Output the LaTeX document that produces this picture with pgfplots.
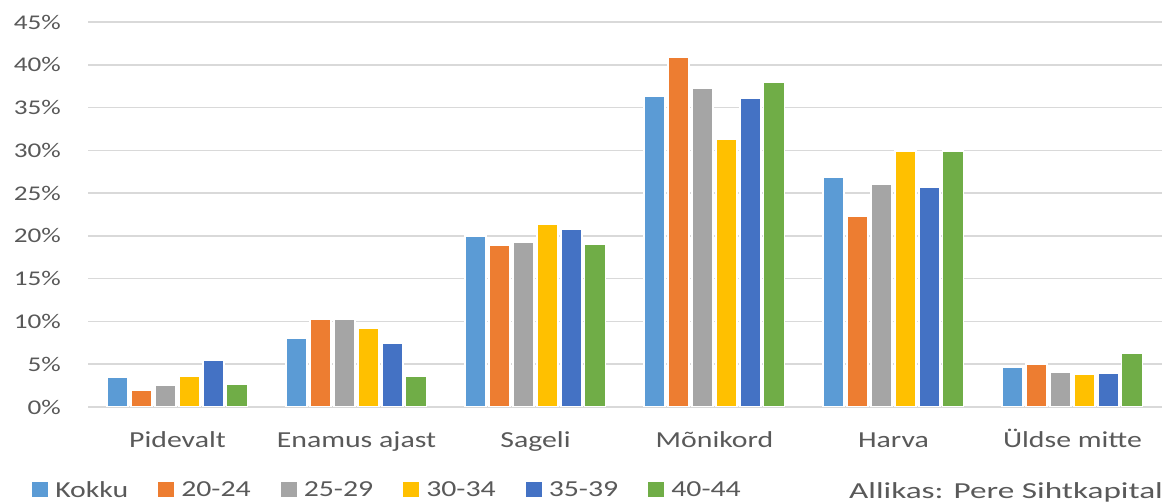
\documentclass[border=0pt]{standalone}
\usepackage{pgfplots}
\pgfplotsset{compat=1.18}
\usepackage{fontspec}
\setmainfont{Carlito}[FakeStretch=1.3]
\newfontfamily\widefont{Carlito}[FakeStretch=1.45]

\definecolor{cKokku}{HTML}{5B9BD5}
\definecolor{cA}{HTML}{ED7D31}
\definecolor{cB}{HTML}{A5A5A5}
\definecolor{cC}{HTML}{FFC000}
\definecolor{cD}{HTML}{4472C4}
\definecolor{cE}{HTML}{70AD47}
\definecolor{txt}{HTML}{595959}
\definecolor{gridc}{HTML}{D9D9D9}

\begin{document}
\begin{tikzpicture}[x=1bp,y=1bp]
\useasboundingbox (0,0) rectangle (1169,503);
\begin{axis}[
  at={(88bp,96bp)}, anchor=south west,
  scale only axis, width=1074bp, height=385bp,
  xmin=-0.5, xmax=5.5, ymin=0, ymax=45,
  ybar=2.9bp, bar width=21bp,
  every axis plot post/.append style={
    legend image code/.code={\fill[##1,draw=none] (0bp,-6.5bp) rectangle (16bp,8bp);}},
  xtick={0,1,2,3,4,5},
  xticklabels={Pidevalt, Enamus ajast, Sageli, Mõnikord, Harva, Üldse mitte},
  ytick={0,5,...,45},
  yticklabel={\pgfmathprintnumber{\tick}\%},
  /pgf/number format/assume math mode=true,
  ymajorgrids, grid style={draw=gridc, line width=1.6bp},
  major tick length=0pt,
  axis line style={draw=none},
  yticklabel style={font=\fontsize{21}{21}\selectfont, text=txt, anchor=east, inner sep=0pt, xshift=-27bp},
  xticklabel style={font=\fontsize{23}{23}\selectfont, text=txt, anchor=base, inner sep=0pt, yshift=-41bp},
  legend columns=6,
  legend style={at={(axis description cs:-0.0521,-0.2390)}, anchor=south west,
    draw=none, fill=none, inner sep=0pt, font=\fontsize{23}{23}\selectfont, text=txt,
    nodes={inner sep=0pt},
    /tikz/every odd column/.append style={column sep=7bp},
    /tikz/every even column/.append style={column sep=30bp}},
]
\addplot[fill=cKokku, draw=white, line width=1.5bp] coordinates {(0,3.5) (1,8.0) (2,20.0) (3,36.3) (4,26.9) (5,4.6)};
\addplot[fill=cA, draw=white, line width=1.5bp] coordinates {(0,2.0) (1,10.3) (2,18.9) (3,40.9) (4,22.3) (5,5.0)};
\addplot[fill=cB, draw=white, line width=1.5bp] coordinates {(0,2.5) (1,10.3) (2,19.2) (3,37.2) (4,26.0) (5,4.1)};
\addplot[fill=cC, draw=white, line width=1.5bp] coordinates {(0,3.6) (1,9.2) (2,21.4) (3,31.3) (4,29.9) (5,3.8)};
\addplot[fill=cD, draw=white, line width=1.5bp] coordinates {(0,5.5) (1,7.4) (2,20.8) (3,36.1) (4,25.7) (5,3.9)};
\addplot[fill=cE, draw=white, line width=1.5bp] coordinates {(0,2.7) (1,3.6) (2,19.0) (3,38.0) (4,29.9) (5,6.3)};
\legend{Kokku, 20-24, 25-29, 30-34, 35-39, 40-44}
\end{axis}
\node[anchor=base west, inner sep=0pt, text=txt, font=\widefont\fontsize{23}{23}\selectfont] at (849,4) {Allikas: Pere Sihtkapital};
\end{tikzpicture}
\end{document}
